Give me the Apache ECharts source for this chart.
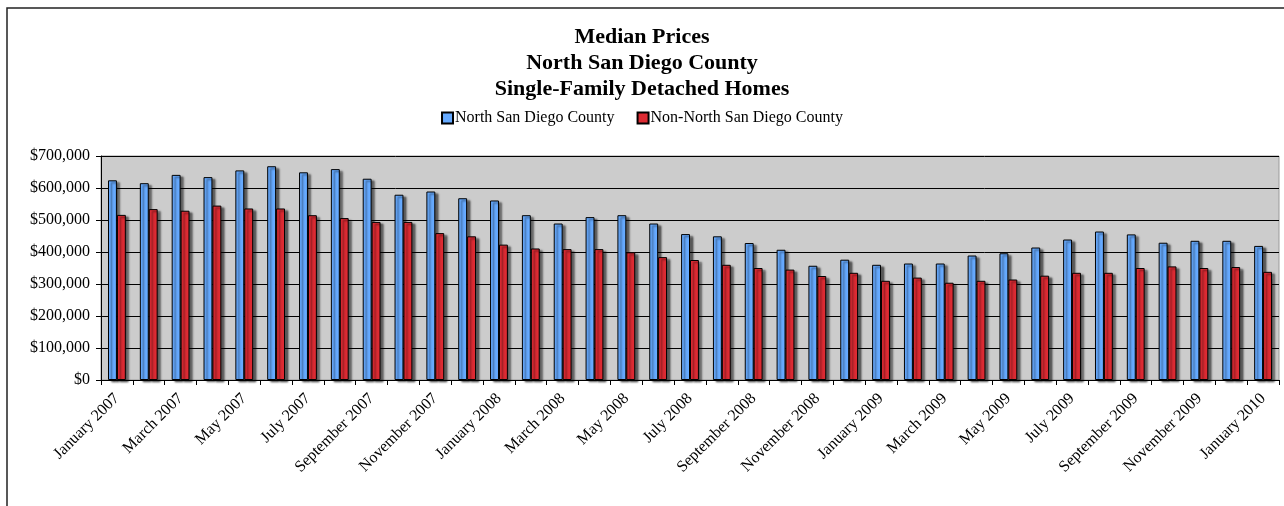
<!DOCTYPE html>
<html>
<head>
<meta charset="utf-8">
<script src="https://cdn.jsdelivr.net/npm/echarts@6/dist/echarts.min.js"></script>
<style>
  html, body { margin: 0; padding: 0; background: #fff; }
  #main { width: 1284px; height: 506px; }
</style>
</head>
<body>
<div id="main"></div>
<script>
// months, Jan 2007 .. Jan 2010
var months = [
  'January 2007', 'February 2007', 'March 2007', 'April 2007', 'May 2007', 'June 2007',
  'July 2007', 'August 2007', 'September 2007', 'October 2007', 'November 2007', 'December 2007',
  'January 2008', 'February 2008', 'March 2008', 'April 2008', 'May 2008', 'June 2008',
  'July 2008', 'August 2008', 'September 2008', 'October 2008', 'November 2008', 'December 2008',
  'January 2009', 'February 2009', 'March 2009', 'April 2009', 'May 2009', 'June 2009',
  'July 2009', 'August 2009', 'September 2009', 'October 2009', 'November 2009', 'December 2009',
  'January 2010'
];

// median prices
var northValues = [
  624000, 615000, 641000, 634000, 655000, 668000, 649000, 659000, 629000, 579000, 589000, 568000,
  561000, 515000, 489000, 509000, 515000, 489000, 456000, 449000, 428000, 407000, 357000, 376000,
  360000, 364000, 364000, 389000, 396000, 414000, 439000, 464000, 455000, 429000, 435000, 435000,
  419000
];
var nonNorthValues = [
  516000, 534000, 529000, 545000, 536000, 536000, 515000, 506000, 494000, 494000, 459000, 449000,
  423000, 411000, 409000, 409000, 399000, 384000, 375000, 360000, 350000, 345000, 325000, 335000,
  310000, 320000, 304000, 310000, 314000, 326000, 335000, 335000, 350000, 355000, 350000, 353000,
  338000
];

var seriesNames = ['North San Diego County', 'Non-North San Diego County'];
var serif = '"Liberation Serif", "DejaVu Serif", serif';

var chart = echarts.init(document.getElementById('main'));

function barStyle(color) {
  return {
    color: color,
    borderColor: '#000',
    borderWidth: 1,
    shadowColor: 'rgba(0,0,0,0.55)',
    shadowBlur: 2,
    shadowOffsetX: 3,
    shadowOffsetY: 2
  };
}

var option = {
  animation: false,
  backgroundColor: '#fff',
  title: {
    text: 'Median Prices\nNorth San Diego County\nSingle-Family Detached Homes',
    left: 'center',
    top: 19,
    textStyle: {
      fontFamily: serif,
      fontWeight: 'bold',
      fontSize: 22,
      lineHeight: 26,
      color: '#000'
    }
  },
  legend: {
    top: 105,
    left: 'center',
    icon: 'rect',
    itemWidth: 11,
    itemHeight: 11,
    itemGap: 22,
    textStyle: { fontFamily: serif, fontSize: 16, color: '#000', padding: [0, 0, 0, -3] },
    data: seriesNames
  },
  graphic: [{
    type: 'rect',
    shape: { x: 7, y: 8, width: 1300, height: 520 },
    style: { fill: 'none', stroke: '#222', lineWidth: 1.5 },
    silent: true
  }],
  grid: {
    left: 101,
    right: 5,
    top: 156,
    bottom: 126,
    show: true,
    backgroundColor: '#cccccc',
    borderColor: '#9a9a9a',
    borderWidth: 1
  },
  xAxis: {
    type: 'category',
    data: months,
    axisLine: { lineStyle: { color: '#000', width: 1 } },
    axisTick: { show: true, interval: 0, length: 5, lineStyle: { color: '#000' } },
    axisLabel: {
      interval: 1,
      rotate: 45,
      fontFamily: serif,
      fontSize: 16,
      color: '#000',
      margin: 16
    }
  },
  yAxis: {
    type: 'value',
    min: 0,
    max: 700000,
    interval: 100000,
    axisLine: { show: true, lineStyle: { color: '#000' } },
    axisTick: { show: true, length: 5, lineStyle: { color: '#000' } },
    splitLine: { lineStyle: { color: '#000', width: 1 } },
    axisLabel: {
      fontFamily: serif,
      fontSize: 16,
      color: '#000',
      margin: 11,
      formatter: function (v) {
        return '$' + v.toString().replace(/\B(?=(\d{3})+(?!\d))/g, ',');
      }
    }
  },
  series: [
    {
      name: seriesNames[0],
      type: 'bar',
      data: northValues,
      barGap: '0%',
      barCategoryGap: '44%',
      itemStyle: barStyle('#66aaff')
    },
    {
      name: seriesNames[1],
      type: 'bar',
      data: nonNorthValues,
      itemStyle: barStyle('#dd2b33')
    }
  ]
};

chart.setOption(option);
</script>
</body>
</html>
